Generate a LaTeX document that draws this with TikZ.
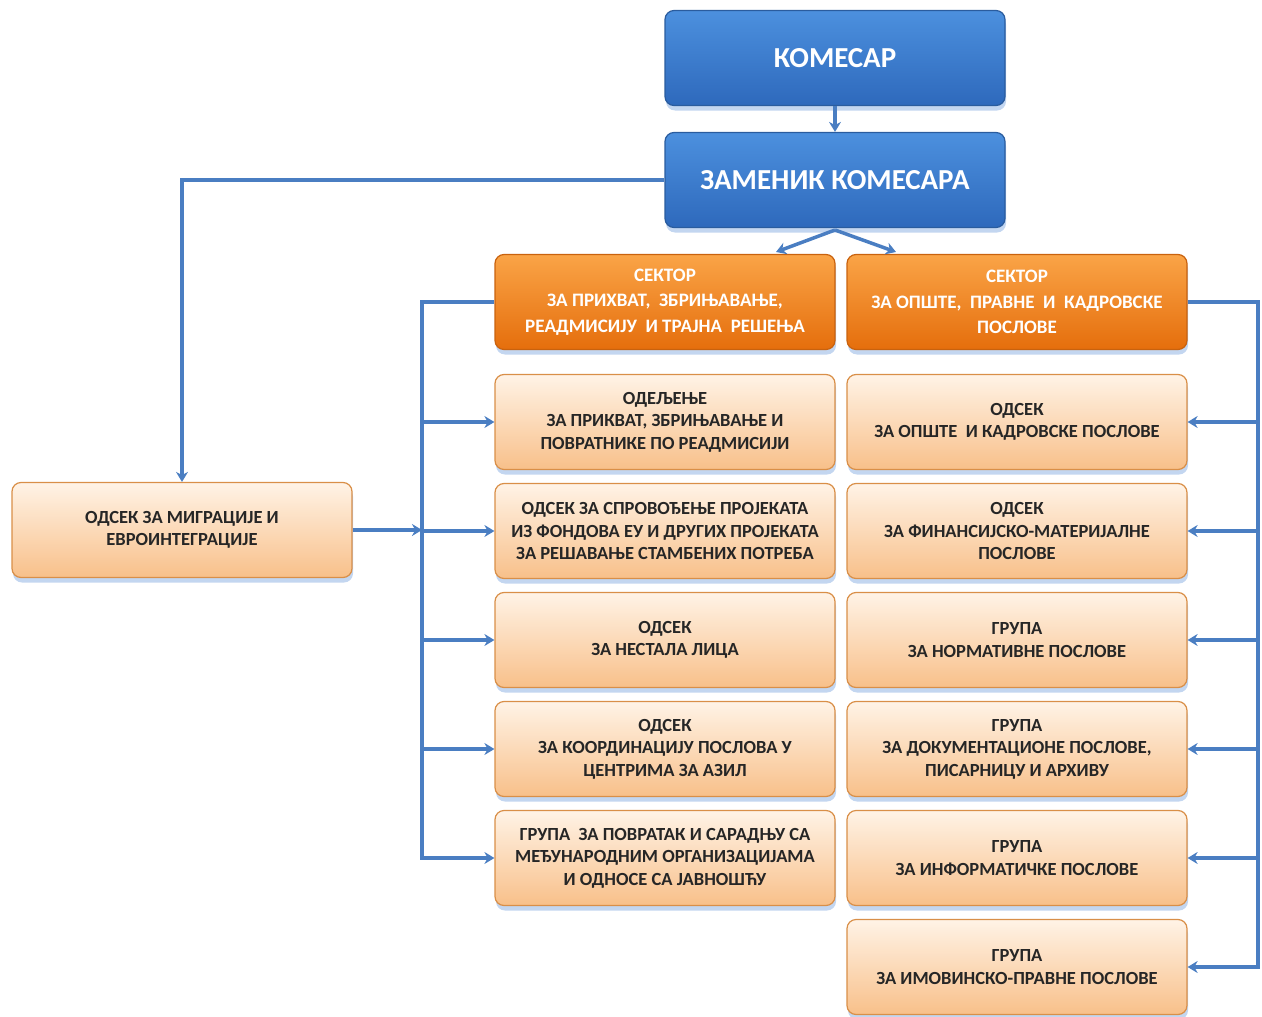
\documentclass[tikz,border=0pt]{standalone}
\usepackage{fontspec}
\setmainfont{Carlito}
\usetikzlibrary{shadows,arrows.meta}
\definecolor{conncol}{HTML}{4A7EC2}
\definecolor{bluetop}{HTML}{4C90DE}
\definecolor{bluebot}{HTML}{2E69BC}
\definecolor{blueedge}{HTML}{2A5C9E}
\definecolor{orgtop}{HTML}{FAA447}
\definecolor{orgbot}{HTML}{E56E0C}
\definecolor{orgedge}{HTML}{C9620E}
\definecolor{peachtop}{HTML}{FFF3E6}
\definecolor{peachbot}{HTML}{F8C08A}
\definecolor{peachedge}{HTML}{D98F48}
\definecolor{shadowcol}{HTML}{A9C4EA}
\definecolor{txtdark}{HTML}{262626}
\tikzset{
  basebox/.style={rounded corners=9pt, minimum width=340pt, minimum height=95pt,
    inner sep=2pt, align=center, font=\bfseries, line width=1.2pt,
    drop shadow={shadow xshift=1pt, shadow yshift=-5pt, fill=shadowcol, opacity=0.7}},
  bluebox/.style={basebox, top color=bluetop, bottom color=bluebot, draw=blueedge, text=white,
    font=\bfseries\fontsize{29}{32}\selectfont},
  orgbox/.style={basebox, top color=orgtop, bottom color=orgbot, draw=orgedge, text=white,
    font=\bfseries\fontsize{19}{25.5}\selectfont},
  peachbox/.style={basebox, top color=peachtop, bottom color=peachbot, draw=peachedge, text=txtdark,
    font=\bfseries\fontsize{18.5}{22.5}\selectfont},
  conn/.style={draw=conncol, line width=3.5pt},
  arr/.style={conn, -{Stealth[length=10pt,width=12pt]}},
}
\begin{document}
\begin{tikzpicture}[x=1pt,y=-1pt]
\useasboundingbox (0,0) rectangle (1262,1017);
% top
\node[bluebox] (kom) at (835,58) {КОМЕСАР};
\node[bluebox] (zam) at (835,180) {ЗАМЕНИК КОМЕСАРА};
% sectors
\node[orgbox] (s1) at (665,302) {СЕКТОР\\ЗА ПРИХВАТ,\ \ ЗБРИЊАВАЊЕ,\\РЕАДМИСИЈУ\ \ И ТРАЈНА\ \ РЕШЕЊА};
\node[orgbox] (s2) at (1017,302) {СЕКТОР\\ЗА ОПШТЕ,\ \ ПРАВНЕ\ \ И\ \ КАДРОВСКЕ\\ПОСЛОВЕ};
% migration
\node[peachbox] (mig) at (182,530) {ОДСЕК ЗА МИГРАЦИЈЕ И\\ЕВРОИНТЕГРАЦИЈЕ};
% left column
\node[peachbox] (l1) at (665,422) {ОДЕЉЕЊЕ\\ЗА ПРИКВАТ, ЗБРИЊАВАЊЕ И\\ПОВРАТНИКЕ ПО РЕАДМИСИЈИ};
\node[peachbox] (l2) at (665,531) {ОДСЕК ЗА СПРОВОЂЕЊЕ ПРОЈЕКАТА\\ИЗ ФОНДОВА ЕУ И ДРУГИХ ПРОЈЕКАТА\\ЗА РЕШАВАЊЕ СТАМБЕНИХ ПОТРЕБА};
\node[peachbox] (l3) at (665,640) {ОДСЕК\\ЗА НЕСТАЛА ЛИЦА};
\node[peachbox] (l4) at (665,749) {ОДСЕК\\ЗА КООРДИНАЦИЈУ ПОСЛОВА У\\ЦЕНТРИМА ЗА АЗИЛ};
\node[peachbox] (l5) at (665,858) {ГРУПА\ \ ЗА ПОВРАТАК И САРАДЊУ СА\\МЕЂУНАРОДНИМ ОРГАНИЗАЦИЈАМА\\И ОДНОСЕ СА ЈАВНОШЋУ};
% right column
\node[peachbox] (r1) at (1017,422) {ОДСЕК\\ЗА ОПШТЕ\ \ И КАДРОВСКЕ ПОСЛОВЕ};
\node[peachbox] (r2) at (1017,531) {ОДСЕК\\ЗА ФИНАНСИЈСКО-МАТЕРИЈАЛНЕ\\ПОСЛОВЕ};
\node[peachbox] (r3) at (1017,640) {ГРУПА\\ЗА НОРМАТИВНЕ ПОСЛОВЕ};
\node[peachbox] (r4) at (1017,749) {ГРУПА\\ЗА ДОКУМЕНТАЦИОНЕ ПОСЛОВЕ,\\ПИСАРНИЦУ И АРХИВУ};
\node[peachbox] (r5) at (1017,858) {ГРУПА\\ЗА ИНФОРМАТИЧКЕ ПОСЛОВЕ};
\node[peachbox] (r6) at (1017,967) {ГРУПА\\ЗА ИМОВИНСКО-ПРАВНЕ ПОСЛОВЕ};
% connectors
\coordinate (fork) at (835,230);
\coordinate (s1in) at (776,252);
\coordinate (s2in) at (896,252);
\coordinate (lbt) at (422,302);
\coordinate (rbt) at (1258,302);
\draw[arr] (kom.south) -- (zam.north);
\draw[arr] (fork) -- (s1in);
\draw[arr] (fork) -- (s2in);
\draw[arr] (zam.west) -| (mig.north);
\draw[arr] (s1.west) -- (lbt) |- (l5.west);
\foreach \n in {l1,l2,l3,l4} \draw[arr] (lbt |- \n.west) -- (\n.west);
\draw[arr] (mig.east) -- (lbt |- mig.east);
\draw[arr] (s2.east) -- (rbt) |- (r6.east);
\foreach \n in {r1,r2,r3,r4,r5} \draw[arr] (rbt |- \n.east) -- (\n.east);
\end{tikzpicture}
\end{document}
